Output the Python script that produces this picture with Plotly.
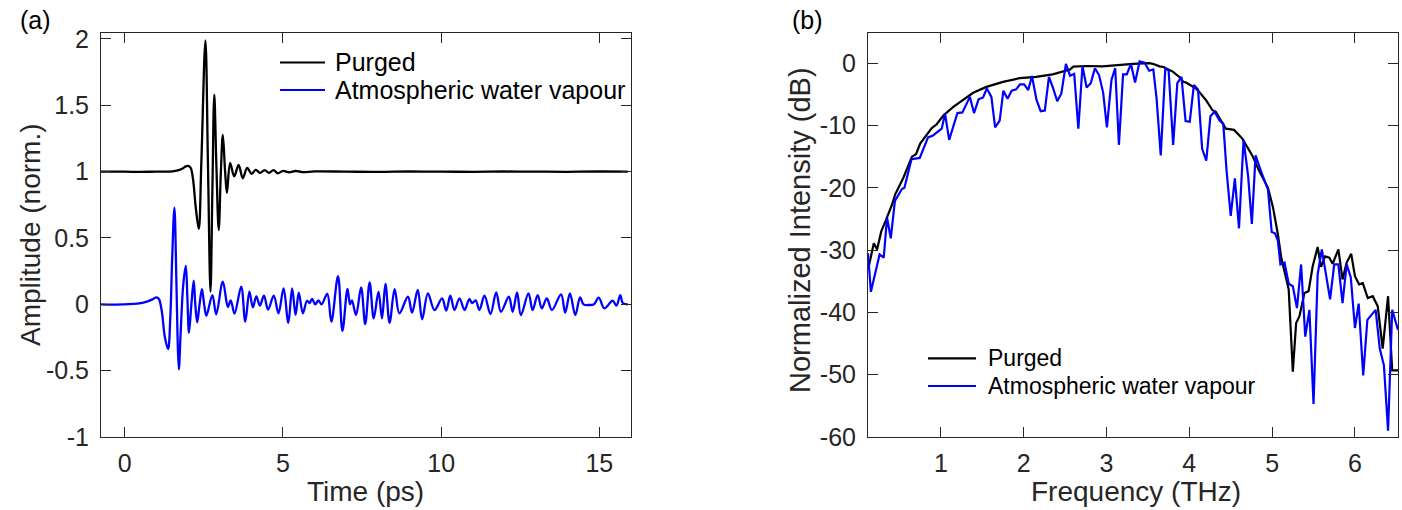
import plotly.graph_objects as go

# (a) time-domain waveforms
t_purged = [-0.75, 0.0, 0.5, 1.0, 1.4, 1.6, 1.8, 1.93, 2.0, 2.08, 2.16, 2.24, 2.34, 2.42, 2.55,
            2.63, 2.71, 2.77, 2.83, 2.895, 2.97, 3.04, 3.10, 3.17, 3.23, 3.33, 3.46, 3.60, 3.73,
            3.87, 4.01, 4.14, 4.28, 4.42, 4.56, 4.70, 4.84, 5.0, 5.2, 5.4, 5.6, 6.0, 7.0, 8.0,
            9.0, 10.0, 11.0, 12.0, 13.0, 14.0, 15.0, 15.9]
a_purged = [1.0, 1.0, 0.998, 1.0, 1.0, 1.005, 1.02, 1.04, 1.043, 1.03, 0.94, 0.74, 0.568, 1.06, 1.99,
            1.06, 0.095, 0.86, 1.58, 1.06, 0.56, 1.01, 1.277, 1.01, 0.84, 1.065, 0.965, 1.05, 0.95,
            1.028, 0.983, 1.013, 0.99, 1.012, 0.99, 1.012, 0.988, 1.005, 0.995, 1.005, 0.997, 1.002,
            1.0, 0.998, 1.001, 1.0, 0.999, 1.001, 1.0, 0.999, 1.001, 1.0]

t_water = [-0.75, -0.4, 0.0, 0.4, 0.7, 0.9, 1.0, 1.08, 1.17, 1.27, 1.37, 1.44, 1.50, 1.57, 1.63,
           1.67, 1.71, 1.77, 1.85, 1.93, 1.98, 2.03, 2.10, 2.18, 2.23, 2.29, 2.36, 2.44, 2.51,
           2.58, 2.77, 2.89, 3.10, 3.26, 3.35, 3.47, 3.68, 3.81, 3.94, 4.05, 4.16, 4.27, 4.40,
           4.53, 4.71, 4.86, 5.02, 5.17, 5.29, 5.40, 5.50, 5.63, 5.76, 5.84, 5.92, 6.02, 6.12,
           6.22, 6.40, 6.53, 6.74, 6.88, 7.04, 7.12, 7.18, 7.31, 7.47, 7.60, 7.74, 7.87, 8.02,
           8.13, 8.24, 8.37, 8.53, 8.68, 8.95, 9.08, 9.26, 9.40, 9.58, 9.79, 10.03, 10.16, 10.29,
           10.42, 10.58, 10.74, 10.89, 10.98, 11.09, 11.21, 11.37, 11.56, 11.74, 11.89, 12.14,
           12.26, 12.40, 12.52, 12.76, 12.89, 13.05, 13.18, 13.34, 13.50, 13.79, 13.92, 14.07,
           14.24, 14.39, 14.50, 14.68, 14.83, 14.98, 15.16, 15.42, 15.54, 15.66, 15.74, 15.9]
a_water = [0.0, -0.003, 0.0, 0.005, 0.02, 0.04, 0.053, 0.04, -0.05, -0.25, -0.337, -0.1, 0.35, 0.729, 0.2,
           -0.25, -0.49, -0.2, 0.15, 0.289, 0.05, -0.214, -0.02, 0.178, 0.0, -0.136, -0.01, 0.115, 0.0,
           -0.086, 0.07, -0.075, 0.17, -0.02, 0.03, -0.07, 0.133, -0.131, 0.095, -0.023, 0.06, -0.01, 0.065,
           -0.04, 0.065, -0.068, 0.12, -0.139, 0.12, -0.08, 0.088, -0.068, 0.027, 0.01, 0.04, 0.0, 0.03,
           0.0, 0.078, -0.131, 0.213, -0.2, 0.117, 0.0, 0.03, -0.08, 0.128, -0.149, 0.166, -0.106, 0.095,
           -0.106, 0.153, -0.139, 0.115, -0.068, 0.057, -0.063, 0.108, -0.113, 0.083, -0.043, 0.045, -0.048, 0.065,
           -0.043, 0.045, -0.043, 0.04, 0.01, 0.03, -0.043, 0.065, -0.073, 0.09, -0.056, 0.057,
           -0.056, 0.09, -0.081, 0.083, -0.043, 0.07, -0.03, 0.045, -0.043, 0.075, -0.063, 0.083,
           -0.081, 0.053, 0.0, -0.005, 0.0, 0.05, -0.03, 0.027, -0.01, 0.07, 0.01, 0.0]

# (b) spectra in dB
f_purged = [0.13, 0.19, 0.23, 0.28, 0.33, 0.41, 0.45, 0.55, 0.65, 0.70, 0.75, 0.79, 0.89, 0.95, 1.03,
            1.15, 1.27, 1.39, 1.55, 1.75, 1.95, 2.15, 2.35, 2.44, 2.56, 2.60, 2.76, 2.95, 3.04, 3.12,
            3.32, 3.52, 3.56, 3.64, 3.69, 3.72, 3.80, 3.88, 3.93, 3.96, 4.08, 4.12, 4.20, 4.28, 4.32,
            4.44, 4.54, 4.64, 4.76, 4.84, 4.95, 5.01, 5.07, 5.11, 5.18, 5.20, 5.25, 5.29, 5.33, 5.39,
            5.44, 5.49, 5.55, 5.59, 5.64, 5.69, 5.73, 5.80, 5.85, 5.90, 5.955, 6.0, 6.05, 6.095, 6.155,
            6.215, 6.275, 6.335, 6.40, 6.45, 6.52]
db_purged = [-32.6, -28.9, -29.9, -27.0, -25.4, -22.7, -21.0, -18.3, -15.0, -14.6, -12.9, -12.2, -10.4, -9.8, -8.4,
             -7.0, -5.9, -4.75, -3.8, -3.0, -2.4, -2.2, -1.8, -1.5, -1.0, -0.55, -0.45, -0.5, -0.4, -0.3,
             -0.1, 0.0, -0.1, -0.5, -0.6, -0.85, -1.35, -2.2, -3.0, -3.1, -4.05, -4.6, -5.9, -7.55, -7.8,
             -10.5, -10.7, -12.1, -14.8, -17.2, -20.0, -23.1, -27.5, -31.2, -35.0, -36.3, -49.5, -41.7, -40.6, -36.9,
             -36.6, -32.6, -29.5, -32.7, -31.0, -31.2, -32.2, -29.9, -34.7, -32.0, -30.6, -34.2, -35.5, -35.3, -37.7,
             -37.4, -39.0, -45.8, -37.4, -49.3, -49.3]

f_water = [0.12, 0.155, 0.26, 0.31, 0.35, 0.395, 0.445, 0.53, 0.56, 0.645, 0.745, 0.845, 0.905, 1.01, 1.05,
           1.10, 1.20, 1.26, 1.35, 1.40, 1.455, 1.51, 1.555, 1.61, 1.655, 1.71, 1.755, 1.805, 1.855, 1.91,
           1.955, 2.005, 2.055, 2.10, 2.155, 2.205, 2.255, 2.305, 2.355, 2.405, 2.455, 2.51, 2.56, 2.61, 2.66,
           2.71, 2.76, 2.81, 2.86, 2.91, 2.96, 3.005, 3.06, 3.105, 3.15, 3.20, 3.245, 3.295, 3.345, 3.40,
           3.46, 3.515, 3.565, 3.605, 3.655, 3.71, 3.75, 3.805, 3.855, 3.905, 3.955, 4.005, 4.055, 4.105, 4.155,
           4.205, 4.255, 4.305, 4.365, 4.41, 4.45, 4.50, 4.55, 4.60, 4.655, 4.71, 4.755, 4.80, 4.87, 4.95,
           4.995, 5.035, 5.07, 5.10, 5.15, 5.20, 5.25, 5.30, 5.35, 5.40, 5.45, 5.50, 5.55, 5.60, 5.65,
           5.70, 5.75, 5.80, 5.85, 5.90, 5.95, 6.00, 6.045, 6.10, 6.15, 6.25, 6.30, 6.35, 6.40, 6.45, 6.52]
db_water = [-30.5, -36.7, -30.7, -31.2, -24.8, -28.1, -22.1, -20.2, -20.0, -15.4, -15.2, -11.9, -11.6, -10.5, -8.1,
            -12.3, -8.0, -7.9, -5.4, -8.0, -5.8, -5.5, -4.05, -5.4, -10.3, -9.2, -4.4, -5.7, -4.4, -4.2,
            -3.4, -3.4, -4.3, -2.05, -5.9, -7.7, -7.6, -2.2, -4.0, -6.1, -4.85, -0.1, -2.0, -1.7, -10.5,
            -0.45, -3.9, -3.2, -0.8, -1.9, -4.75, -10.3, -2.7, -0.8, -13.1, -1.8, -1.8, -0.1, -3.1, 0.3,
            0.1, -1.2, -1.0, -5.7, -14.8, -0.8, -1.2, -13.1, -3.2, -2.2, -9.3, -9.4, -3.5, -4.2, -13.75,
            -15.65, -8.5, -7.8, -9.2, -9.7, -17.3, -24.5, -18.5, -26.5, -12.3, -18.1, -25.8, -14.8, -17.5, -20.3,
            -27.1, -27.3, -28.5, -32.3, -32.0, -35.4, -35.8, -39.3, -32.3, -43.9, -39.6, -54.7, -33.9, -29.9, -33.9,
            -37.9, -32.3, -32.3, -38.5, -32.3, -34.4, -42.5, -38.6, -50.1, -41.2, -39.6, -45.8, -48.5, -59.0, -39.6, -42.8]

time_ticks = [0, 5, 10, 15]
amp_ticks = [-1, -0.5, 0, 0.5, 1, 1.5, 2]
freq_ticks = [1, 2, 3, 4, 5, 6]
db_ticks = [-60, -50, -40, -30, -20, -10, 0]

FONT = "Liberation Sans, Arial, Helvetica, sans-serif"
AX = "#262626"
W, H = 1402, 510
TOP, BOT = 33, 437


def px(x):
    return x / W


def py(y):
    # pixel row -> paper y (plot area spans rows TOP..BOT)
    return (BOT - y) / (BOT - TOP)


fig = go.Figure()
fig.add_trace(go.Scatter(x=t_purged, y=a_purged, mode="lines", name="Purged",
                         line=dict(color="black", width=2.3, shape="spline", smoothing=1.0),
                         xaxis="x", yaxis="y"))
fig.add_trace(go.Scatter(x=t_water, y=a_water, mode="lines", name="Atmospheric water vapour",
                         line=dict(color="#0000ff", width=2.3, shape="spline", smoothing=1.0),
                         xaxis="x", yaxis="y"))
fig.add_trace(go.Scatter(x=f_purged, y=db_purged, mode="lines", name="Purged",
                         line=dict(color="black", width=2.2), xaxis="x2", yaxis="y2"))
fig.add_trace(go.Scatter(x=f_water, y=db_water, mode="lines", name="Atmospheric water vapour",
                         line=dict(color="#0000ff", width=2.2), xaxis="x2", yaxis="y2"))


def tick_text(vals):
    return ["%g" % v for v in vals]


axis_style = dict(showline=True, linecolor=AX, linewidth=1, mirror="ticks", ticks="inside",
                  ticklen=10, tickcolor=AX, showgrid=False, zeroline=False, automargin=False,
                  tickfont=dict(size=25, color=AX, family=FONT))

fig.update_layout(
    width=W, height=H,
    margin=dict(l=0, r=0, t=TOP, b=H - BOT),
    plot_bgcolor="white", paper_bgcolor="white",
    font=dict(family=FONT, color=AX),
    showlegend=False,
    xaxis=dict(domain=[px(101), px(631)], range=[-0.75, 16], tickvals=time_ticks,
               ticktext=tick_text(time_ticks), anchor="y", ticklabelstandoff=4, **axis_style),
    yaxis=dict(domain=[0, 1], range=[-1, 2.045], tickvals=amp_ticks,
               ticktext=tick_text(amp_ticks), anchor="x", ticklabelstandoff=6, **axis_style),
    xaxis2=dict(domain=[px(868), px(1398)], range=[0.12, 6.52], tickvals=freq_ticks,
                ticktext=tick_text(freq_ticks), anchor="y2", ticklabelstandoff=4, **axis_style),
    yaxis2=dict(domain=[0, 1], range=[-60, 4.85], tickvals=db_ticks,
                ticktext=tick_text(db_ticks), anchor="x2", ticklabelstandoff=6, **axis_style),
)

# axis titles and panel labels
titles = [
    ("Time (ps)", 366, 491, 0, 28),
    ("Frequency (THz)", 1136, 491, 0, 28),
    ("Amplitude (norm.)", 30, 235, -90, 28),
    ("Normalized Intensity (dB)", 800, 230, -90, 29),
]
for text, x, y, ang, fs in titles:
    fig.add_annotation(text=text, x=px(x), y=py(y), xref="paper", yref="paper", showarrow=False,
                       xanchor="center", yanchor="middle", textangle=ang,
                       font=dict(size=fs, color=AX, family=FONT))

for text, x in [("(a)", 18), ("(b)", 790)]:
    fig.add_annotation(text=text, x=px(x), y=py(20), xref="paper", yref="paper", showarrow=False,
                       xanchor="left", yanchor="middle", font=dict(size=25, color="black", family=FONT))

# hand-drawn legends (line samples + labels)
legends = [
    (280, 325, 333, [62.5, 90], 25),
    (928, 976, 986, [358.3, 386], 23),
]
for x0, x1, xt, rows, fs in legends:
    for (name, color), yr in zip([("Purged", "black"), ("Atmospheric water vapour", "#0000ff")], rows):
        fig.add_shape(type="line", xref="paper", yref="paper", x0=px(x0), x1=px(x1), y0=py(yr), y1=py(yr),
                      line=dict(color=color, width=2.2))
        fig.add_annotation(text=name, x=px(xt), y=py(yr), xref="paper", yref="paper", showarrow=False,
                           xanchor="left", yanchor="middle", font=dict(size=fs, color="black", family=FONT))

fig.write_html("out.html", config={"displayModeBar": False},
               post_script="document.body.style.margin='0';")
